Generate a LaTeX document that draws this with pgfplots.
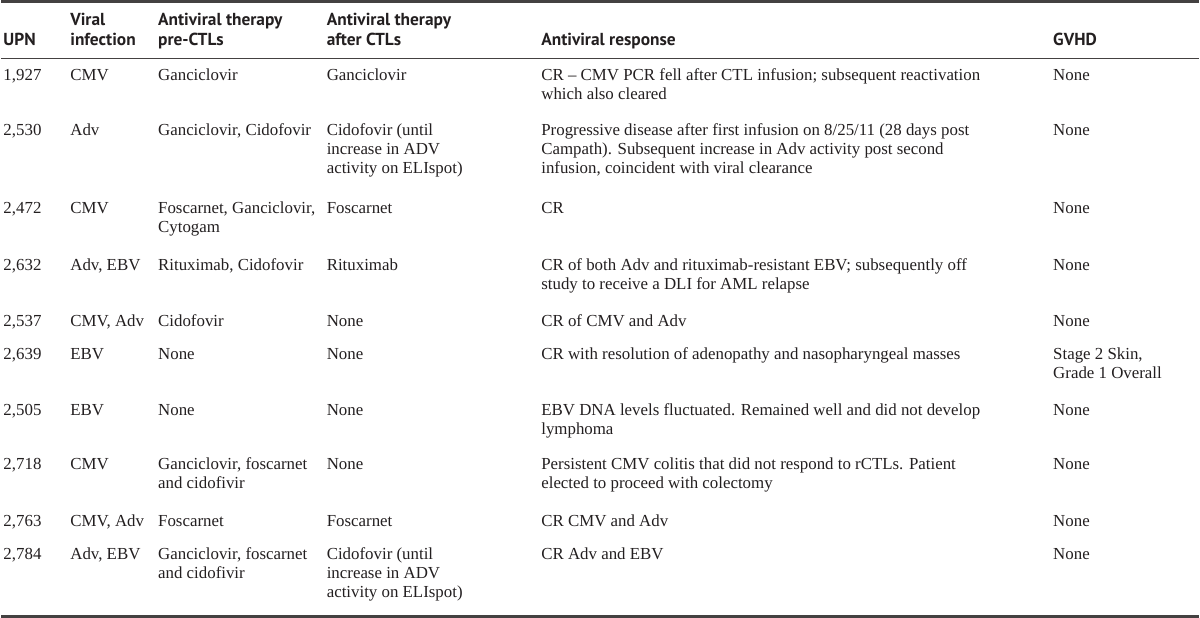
\documentclass[border=0pt]{standalone}
\usepackage{fontspec}
\setmainfont{Liberation Serif}
\newfontfamily\hdrfont{PT Sans}
\usepackage{pgfplots}
\pgfplotsset{compat=1.18}
\definecolor{ink}{HTML}{231F20}
\newcommand{\B}[3]{\node[anchor=base west, inner sep=0pt, text=ink, font=\fontsize{16.9}{19}\selectfont] at (axis cs:#1,#2) {#3};}
\newcommand{\HH}[3]{\node[anchor=base west, inner sep=0pt, text=ink, font=\hdrfont\bfseries\fontsize{17.4}{19}\selectfont] at (axis cs:#1,#2) {#3};}
\begin{document}
\begin{tikzpicture}
\begin{axis}[scale only axis, width=1200pt, height=620pt,
  xmin=0, xmax=1200, ymin=0, ymax=620, y dir=reverse,
  axis lines=none, clip=false]
% rules
\draw[line width=2.6pt, color=ink!85] (axis cs:0,1.3) -- (axis cs:1200,1.3);
\draw[line width=0.9pt, color=ink!85] (axis cs:0,59) -- (axis cs:1200,59);
\draw[line width=2.6pt, color=ink!85] (axis cs:0,617.7) -- (axis cs:1200,617.7);
% header
\HH{69}{26}{Viral}
\HH{157}{26}{Antiviral therapy}
\HH{326}{26}{Antiviral therapy}
\HH{2}{46}{UPN}
\HH{69}{46}{infection}
\HH{157}{46}{pre-CTLs}
\HH{326}{46}{after CTLs}
\HH{541}{46}{Antiviral response}
\HH{1054}{46}{GVHD}
% row 1927
\B{2}{81}{1,927}
\B{69}{81}{CMV}
\B{157}{81}{Ganciclovir}
\B{326}{81}{Ganciclovir}
\B{541}{81}{CR – CMV PCR fell after CTL infusion; subsequent reactivation}
\B{541}{100}{which also cleared}
\B{1054}{81}{None}
% row 2530
\B{2}{136}{2,530}
\B{69}{136}{Adv}
\B{157}{136}{Ganciclovir, Cidofovir}
\B{326}{136}{Cidofovir (until}
\B{326}{155}{increase in ADV}
\B{326}{174}{activity on ELIspot)}
\B{541}{136}{Progressive disease after first infusion on 8/25/11 (28 days post}
\B{541}{155}{Campath). Subsequent increase in Adv activity post second}
\B{541}{174}{infusion, coincident with viral clearance}
\B{1054}{136}{None}
% row 2472
\B{2}{214}{2,472}
\B{69}{214}{CMV}
\B{157}{214}{Foscarnet, Ganciclovir,}
\B{157}{233}{Cytogam}
\B{326}{214}{Foscarnet}
\B{541}{214}{CR}
\B{1054}{214}{None}
% row 2632
\B{2}{271}{2,632}
\B{69}{271}{Adv, EBV}
\B{157}{271}{Rituximab, Cidofovir}
\B{326}{271}{Rituximab}
\B{541}{271}{CR of both Adv and rituximab-resistant EBV; subsequently off}
\B{541}{290}{study to receive a DLI for AML relapse}
\B{1054}{271}{None}
% row 2537
\B{2}{327}{2,537}
\B{69}{327}{CMV, Adv}
\B{157}{327}{Cidofovir}
\B{326}{327}{None}
\B{541}{327}{CR of CMV and Adv}
\B{1054}{327}{None}
% row 2639
\B{2}{360}{2,639}
\B{69}{360}{EBV}
\B{157}{360}{None}
\B{326}{360}{None}
\B{541}{360}{CR with resolution of adenopathy and nasopharyngeal masses}
\B{1054}{360}{Stage 2 Skin,}
\B{1054}{379}{Grade 1 Overall}
% row 2505
\B{2}{416}{2,505}
\B{69}{416}{EBV}
\B{157}{416}{None}
\B{326}{416}{None}
\B{541}{416}{EBV DNA levels fluctuated. Remained well and did not develop}
\B{541}{435}{lymphoma}
\B{1054}{416}{None}
% row 2718
\B{2}{471}{2,718}
\B{69}{471}{CMV}
\B{157}{471}{Ganciclovir, foscarnet}
\B{157}{490}{and cidofivir}
\B{326}{471}{None}
\B{541}{471}{Persistent CMV colitis that did not respond to rCTLs. Patient}
\B{541}{490}{elected to proceed with colectomy}
\B{1054}{471}{None}
% row 2763
\B{2}{528}{2,763}
\B{69}{528}{CMV, Adv}
\B{157}{528}{Foscarnet}
\B{326}{528}{Foscarnet}
\B{541}{528}{CR CMV and Adv}
\B{1054}{528}{None}
% row 2784
\B{2}{561}{2,784}
\B{69}{561}{Adv, EBV}
\B{157}{561}{Ganciclovir, foscarnet}
\B{157}{580}{and cidofivir}
\B{326}{561}{Cidofovir (until}
\B{326}{580}{increase in ADV}
\B{326}{599}{activity on ELIspot)}
\B{541}{561}{CR Adv and EBV}
\B{1054}{561}{None}
\end{axis}
\end{tikzpicture}
\end{document}
